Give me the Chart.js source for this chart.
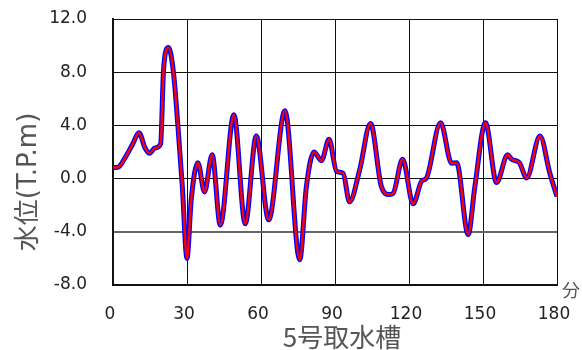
<!DOCTYPE html>
<html>
<head>
<meta charset="utf-8">
<script src="https://cdn.jsdelivr.net/npm/chart.js@4"></script>
<style>
  html, body { margin: 0; padding: 0; background: #fff; }
  #wrap { width: 582px; height: 350px; }
</style>
</head>
<body>
<div id="wrap"><canvas id="chart"></canvas></div>
<script>
// time in minutes and water level (T.P.m)
const minutes = [0, 2, 5, 8, 10.5, 13, 14.8, 17, 19.3, 20.5, 22.5, 24.5, 26.3, 28.1, 30,
  31.7, 34.4, 37.1, 40.2, 43.5, 49, 53.6, 58.1, 63.1, 69.7, 75.7, 78.4, 81.5, 84.5, 87.6,
  90.6, 93.3, 95.9, 100, 104.4, 108.8, 111.9, 113.6, 117.4, 121.7, 125.1, 127.1, 132.8,
  137.3, 139.3, 144, 146.7, 151, 155.5, 160, 161.6, 164.7, 167.7, 173.1, 177.1, 180];
const redLevel = [0.83, 0.85, 1.6, 2.6, 3.45, 2.3, 1.9, 2.3, 2.6, 8.2, 9.85, 8.0, 4.0, -0.6, -6.0,
  -1.6, 1.2, -1.0, 1.8, -3.5, 4.8, -3.4, 3.2, -3.1, 5.1, -6.1, -0.6, 2.0, 1.35, 2.95,
  0.55, 0.4, -1.75, 0.65, 4.15, -0.6, -1.2, -1.1, 1.45, -1.9, -0.2, 0.05, 4.2,
  1.15, 1.2, -4.2, -0.6, 4.2, -0.3, 1.8, 1.45, 1.2, 0.05, 3.2, 0.4, -1.35];
const blueLevel = [0.83, 0.85, 1.6, 2.6, 3.45, 2.3, 1.9, 2.3, 2.6, 8.2, 9.85, 8.0, 4.0, -0.6, -6.0,
  -1.6, 1.2, -1.0, 1.8, -3.5, 4.8, -3.4, 3.2, -3.1, 5.1, -6.1, -0.6, 2.0, 1.35, 2.95,
  0.55, 0.4, -1.75, 0.65, 4.15, -0.6, -1.2, -1.1, 1.45, -1.9, -0.2, 0.05, 4.2,
  1.15, 1.2, -4.2, -0.6, 4.2, -0.3, 1.8, 1.45, 1.2, 0.05, 3.2, 0.4, -1.35];

const xTicks = [0, 30, 60, 90, 120, 150, 180];
const yTicks = [-8, -4, 0, 4, 8, 12];
const xTitle = '5号取水槽';
const yTitle = '水位(T.P.m)';
const xUnit = '分';

const toPoints = (xs, ys) => xs.map((x, i) => ({ x: x, y: ys[i] }));

// axis titles and the unit label
const titlesPlugin = {
  id: 'titles',
  afterDraw(chart) {
    const ctx = chart.ctx;
    const area = chart.chartArea;
    ctx.save();
    ctx.fillStyle = '#555';
    ctx.textAlign = 'center';
    ctx.textBaseline = 'middle';
    ctx.font = '26px "Noto Sans CJK JP"';
    ctx.fillText(xTitle, (area.left + area.right) / 2 + 7, 337);
    ctx.font = '18px "Noto Sans CJK JP"';
    ctx.fillText(xUnit, area.right + 14, area.bottom + 5);
    ctx.translate(29, 182);
    ctx.rotate(-Math.PI / 2);
    ctx.font = '26px "DejaVu Sans", "Noto Sans CJK JP"';
    ctx.fillText(yTitle, 0, 0);
    ctx.restore();
  }
};

new Chart(document.getElementById('chart'), {
  type: 'line',
  data: {
    datasets: [{
      label: 'red',
      data: toPoints(minutes, redLevel),
      borderColor: '#ff0000',
      borderWidth: 2.5,
      pointRadius: 0,
      cubicInterpolationMode: 'monotone'
    }, {
      label: 'blue',
      data: toPoints(minutes, blueLevel),
      borderColor: '#0000ff',
      borderWidth: 5,
      pointRadius: 0,
      cubicInterpolationMode: 'monotone'
    }]
  },
  options: {
    responsive: true,
    maintainAspectRatio: false,
    animation: false,
    layout: { padding: { top: 19, right: 25, left: 0, bottom: 0 } },
    plugins: {
      legend: { display: false },
      tooltip: { enabled: false }
    },
    scales: {
      x: {
        type: 'linear',
        min: 0,
        max: 180,
        afterBuildTicks: scale => { scale.ticks = xTicks.map(v => ({ value: v })); },
        afterFit: scale => {
          scale.height = 65;
          scale.paddingLeft = 0;
          scale.paddingRight = 0;
        },
        ticks: {
          color: '#222',
          font: { family: 'DejaVu Sans', size: 17 },
          padding: 19,
          labelOffset: -3,
          maxRotation: 0
        },
        grid: { color: '#111', lineWidth: 1, drawTicks: false },
        border: { color: '#111', width: 2 }
      },
      y: {
        min: -8,
        max: 12,
        afterBuildTicks: scale => { scale.ticks = yTicks.map(v => ({ value: v })); },
        afterFit: scale => {
          scale.width = 113;
          scale.paddingTop = 0;
          scale.paddingBottom = 0;
        },
        ticks: {
          color: '#222',
          font: { family: 'DejaVu Sans', size: 17 },
          padding: 26,
          callback: v => v.toFixed(1)
        },
        grid: {
          drawTicks: false,
          color: ctx => (ctx.tick && ctx.tick.value === -4 ? '#666' : '#111'),
          lineWidth: ctx => (ctx.tick && ctx.tick.value === -4 ? 2 : 1)
        },
        border: { color: '#111', width: 2 }
      }
    }
  },
  plugins: [titlesPlugin]
});
</script>
</body>
</html>
